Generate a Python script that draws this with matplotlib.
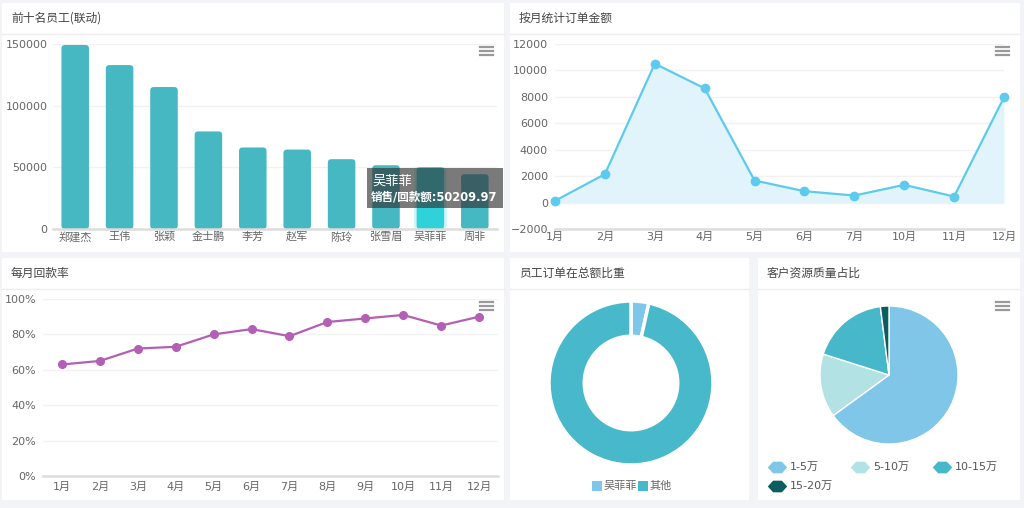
import matplotlib
matplotlib.use("Agg")
from matplotlib import pyplot as plt
from matplotlib.patches import Rectangle, FancyBboxPatch
from matplotlib.path import Path
from matplotlib.ticker import FuncFormatter

plt.rcParams["font.family"] = ["DejaVu Sans", "Noto Sans CJK SC"]

W, H = 1024, 508

# top ten staff
names = ["郑建杰", "王伟", "张颖", "金士鹏", "李芳", "赵军", "陈玲", "张雪眉", "吴菲菲", "周非"]
sales = [149200, 132900, 115100, 79100, 66100, 64400, 56600, 51700, 50209.97, 44400]
picked = 8

# monthly order amount
order_months = ["1月", "2月", "3月", "4月", "5月", "6月", "7月", "10月", "11月", "12月"]
orders = [130, 2150, 10510, 8640, 1670, 860, 530, 1340, 455, 7960]

# monthly payback rate
rate_months = ["1月", "2月", "3月", "4月", "5月", "6月", "7月", "8月", "9月", "10月", "11月", "12月"]
rate = [63, 65, 72, 73, 80, 83, 79, 87, 89, 91, 85, 90]

# share of picked staff
share_labels = ["吴菲菲", "其他"]
share = [3.5, 96.5]

# customer quality
quality_labels = ["1-5万", "5-10万", "10-15万", "15-20万"]
quality = [65.0, 14.9, 18.1, 2.0]

TXT = "#666666"
TITLE = "#444444"
GRID = "#f2f2f2"
CJK = ["Noto Sans CJK SC", "DejaVu Sans"]


def box(x, y, w, h):
    return [x / W, 1 - (y + h) / H, w / W, h / H]


fig = plt.figure(figsize=(W / 100, H / 100), dpi=100, facecolor="#f3f4f8")

base = fig.add_axes([0, 0, 1, 1], zorder=-5)
base.set_xlim(0, W)
base.set_ylim(H, 0)
base.axis("off")

top = fig.add_axes([0, 0, 1, 1], zorder=10)
top.set_xlim(0, W)
top.set_ylim(H, 0)
top.axis("off")
top.patch.set_alpha(0)

panels = [
    (2, 3, 502, 249, "前十名员工(联动)", 34),
    (510, 3, 510, 249, "按月统计订单金额", 34),
    (2, 258, 502, 242, "每月回款率", 289),
    (510, 258, 239, 242, "员工订单在总额比重", 289),
    (758, 258, 262, 242, "客户资源质量占比", 289),
]
for x, y, w, h, title, sep in panels:
    base.add_patch(Rectangle((x, y), w, h, facecolor="white", edgecolor="none"))
    base.plot([x, x + w], [sep, sep], color="#eeeeee", lw=1)
    base.text(x + 9, (y + sep) / 2, title, fontsize=8.5, color=TITLE,
              va="center", ha="left", family=CJK)

# hamburger icons
for ix, iy in [(480, 47), (996, 47), (480, 302), (996, 302)]:
    for k in range(3):
        top.plot([ix, ix + 13], [iy + 4 * k, iy + 4 * k], color="#999999", lw=1.6)


def style_axis(ax):
    for s in ["top", "right", "left"]:
        ax.spines[s].set_visible(False)
    ax.spines["bottom"].set_color("#dddddd")
    ax.spines["bottom"].set_linewidth(1.8)
    ax.tick_params(length=0, labelsize=8, colors=TXT)
    ax.grid(axis="y", color=GRID, lw=1)
    ax.set_axisbelow(True)
    ax.patch.set_alpha(0)


# chart 1: bars (rounded corners)
ax1 = fig.add_axes(box(53, 44, 444, 185))
style_axis(ax1)
xs = range(len(names))
cols = ["#2ed2d8" if i == picked else "#46b8c2" for i in xs]
ax1.set_xlim(-0.5, len(names) - 0.5)
ax1.set_ylim(0, 150000)
glow = ax1.bar(picked, sales[picked], width=0.74, color="#2ed2d8", alpha=0.22)
bars = ax1.bar(xs, sales, width=0.62, color=cols)
aspect = (150000 / 185) / (len(names) / 444)
for r in list(glow) + list(bars):
    x0, y0 = r.get_x(), r.get_y()
    w, h = r.get_width(), r.get_height()
    rad = 3.5 * len(names) / 444
    fb = FancyBboxPatch((x0, y0), w, h, boxstyle=f"round,pad=0,rounding_size={rad}",
                        mutation_aspect=aspect, facecolor=r.get_facecolor(),
                        edgecolor="none")
    ax1.add_patch(fb)
    r.set_visible(False)
ax1.set_yticks([0, 50000, 100000, 150000])
ax1.set_xticks(list(xs))
ax1.set_xticklabels(names)
ax1.tick_params(axis="x", pad=2)
ax1.tick_params(axis="y", pad=4)

# tooltip
top.add_patch(Rectangle((367, 168), 136, 40, facecolor=(0.2, 0.2, 0.2, 0.65), edgecolor="none"))
top.text(372, 181, names[picked], color="white", fontsize=9.5, va="center", family=CJK)
top.text(371, 197, f"销售/回款额:{sales[picked]:.2f}", color="white", fontsize=8.3,
         fontweight="bold", va="center")

# chart 2: area line
ax2 = fig.add_axes(box(555, 44, 449, 185))
style_axis(ax2)
x2 = list(range(len(order_months)))
ax2.fill_between(x2, orders, 0, color="#e2f4fb", lw=0)
ax2.plot(x2, orders, color="#5ccbee", lw=1.6, marker="o", ms=6, clip_on=False)
ax2.set_xlim(0, len(order_months) - 1)
ax2.set_ylim(-2000, 12000)
ax2.set_yticks(range(-2000, 12001, 2000))
ax2.set_xticks(x2)
ax2.set_xticklabels(order_months)
ax2.tick_params(axis="x", pad=2)
ax2.tick_params(axis="y", pad=5)

# chart 3: rate line
ax3 = fig.add_axes(box(43, 299, 455, 177))
style_axis(ax3)
x3 = list(range(len(rate_months)))
ax3.plot(x3, rate, color="#b45fb6", lw=1.6, marker="o", ms=5.5)
ax3.set_xlim(-0.5, len(rate_months) - 0.5)
ax3.set_ylim(0, 100)
ax3.set_yticks(range(0, 101, 20))
ax3.yaxis.set_major_formatter(FuncFormatter(lambda v, p: f"{v:.0f}%"))
ax3.set_xticks(x3)
ax3.set_xticklabels(rate_months)
ax3.tick_params(axis="x", pad=4)
ax3.tick_params(axis="y", pad=5)

# chart 4: donut
share_cols = ["#7fc7ea", "#47b9cb"]
ax4 = fig.add_axes(box(631 - 82, 383 - 82, 164, 164))
ax4.pie(share, colors=share_cols, startangle=90, counterclock=False, radius=1,
        wedgeprops=dict(width=0.43, edgecolor="white", lw=2.5))
ax4.set_xlim(-1, 1)
ax4.set_ylim(-1, 1)
ax4.axis("off")
lx = 592
for lab, c in zip(share_labels, share_cols):
    top.add_patch(Rectangle((lx, 481), 10, 10, facecolor=c, edgecolor="none"))
    top.text(lx + 12, 486, lab, fontsize=8, color=TXT, va="center", family=CJK)
    lx += 46

# chart 5: pie
quality_cols = ["#7fc6e8", "#b3e2e5", "#47b8ca", "#0b5d61"]
ax5 = fig.add_axes(box(889 - 69, 375 - 69, 138, 138))
ax5.pie(quality, colors=quality_cols, startangle=90, counterclock=False, radius=1,
        wedgeprops=dict(edgecolor="white", lw=1))
ax5.set_xlim(-1, 1)
ax5.set_ylim(-1, 1)
ax5.axis("off")
hexa = Path([(-1, 0), (-0.45, 0.6), (0.45, 0.6), (1, 0), (0.45, -0.6), (-0.45, -0.6), (-1, 0)])
spots = [(777, 467), (860, 467), (942, 467), (777, 486)]
for (mx, my), lab, c in zip(spots, quality_labels, quality_cols):
    top.plot([mx], [my], marker=hexa, ms=14, color=c, mec="none")
    top.text(mx + 13, my, lab, fontsize=8, color="#555555", va="center")

fig.savefig("out.png", dpi=100, facecolor=fig.get_facecolor())
